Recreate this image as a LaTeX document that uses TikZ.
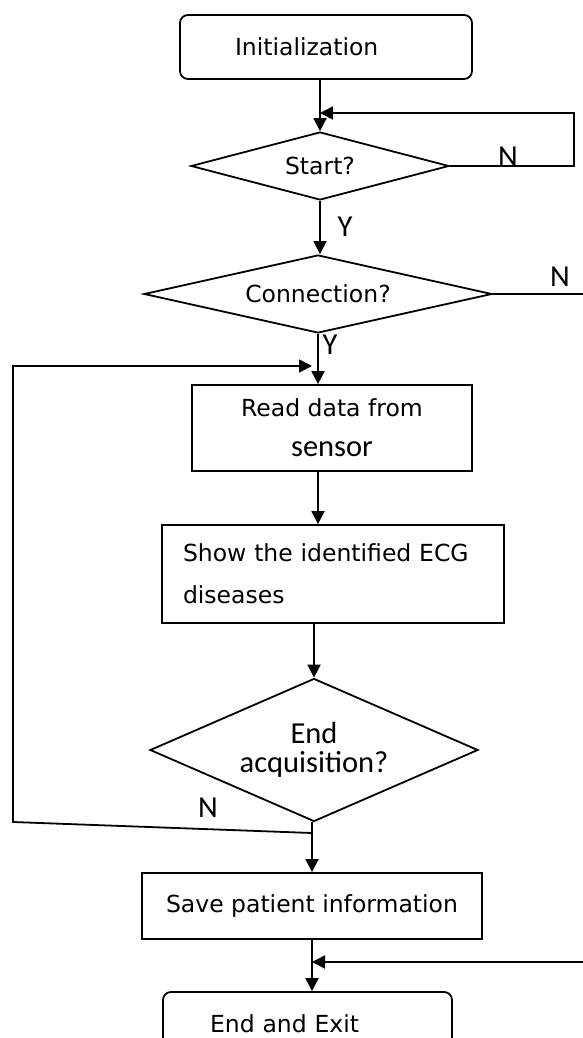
\documentclass[tikz,border=0pt]{standalone}
\usepackage{fontspec}
\setmainfont{DejaVu Sans}
\newfontfamily\calfont{Carlito}
\usetikzlibrary{shapes.geometric,arrows.meta}

\begin{document}
\begin{tikzpicture}[x=0.5pt,y=-0.5pt,line width=0.9pt,
                font=\fontsize{11.75}{20}\selectfont,
                term/.style={draw,rounded corners=4pt,minimum height=32pt,align=left,inner ysep=0pt},
                proc/.style={draw,minimum height=33pt,inner sep=0pt},
                cond/.style={draw,diamond,inner sep=0pt},
                lbl/.style={font=\calfont\fontsize{15.25}{18}\selectfont,inner sep=0pt},
                arr/.style={-{Triangle[length=6.5pt,width=6.5pt]}}]
                \useasboundingbox (0,0) rectangle (583,1038);
                \node[term,text width=91pt,inner xsep=27.5pt] (init) at (326,47) {Initialization};
                \node[cond,aspect=3.8,minimum width=129pt,minimum height=34pt] (start) at (320,166) {Start?};
                \node[cond,aspect=4.46,minimum width=174pt,minimum height=39pt] (conn) at (318,294) {Connection?};
                \node[proc,minimum width=140pt,minimum height=43pt,align=center] (read) at (332,428) {Read data from\\{\calfont\fontsize{15.25}{20}\selectfont sensor}};
                \node[proc,text width=150pt,inner xsep=10.5pt,minimum height=49pt,align=left,font=\fontsize{11.75}{21}\selectfont] (show) at (333,574) {Show the identified ECG\\diseases};
                \node[cond,aspect=2.29,minimum width=164pt,minimum height=71.5pt,align=center,font=\calfont\fontsize{15.25}{14.5}\selectfont] (endq) at (314,750) {End\\acquisition?};
                \node[proc,minimum width=170pt] (save) at (312,906) {Save patient information};
                \node[term,text width=97.5pt,inner xsep=23.5pt] (exit) at (307.5,1024) {End and Exit};
                \coordinate (j1) at (320,113);
                \coordinate (j2) at (312,962);
                \coordinate (j3) at (312,366);
                \coordinate (j4) at (312,833);
                \draw[arr] (start.north |- init.south) -- (start.north);
                \draw[arr] (start.east) -- ++(124,0) |- (j1);
                \draw[arr] (start.south) -- (start.south |- conn.north);
                \draw[arr] (conn.east) -- ++(100,0) |- (j2);
                \draw[arr] (conn.south) -- (conn.south |- read.north);
                \draw[arr] (read.south -| conn.south) -- (show.north -| conn.south);
                \draw[arr] (show.south -| endq.north) -- (endq.north);
                \draw[arr] (save.north |- endq.south) -- (save.north);
                \draw[arr] (j4) -- (13,822) |- (j3);
                \draw[arr] (save.south) -- (exit.north -| save.south);
                \node[lbl] (n1) at (508,157) {N};
                \node[lbl] (y1) at (345,227) {Y};
                \node[lbl] (n2) at (560,277) {N};
                \node[lbl] (y2) at (330,345) {Y};
                \node[lbl] (n3) at (208,808) {N};
\end{tikzpicture}
\end{document}
